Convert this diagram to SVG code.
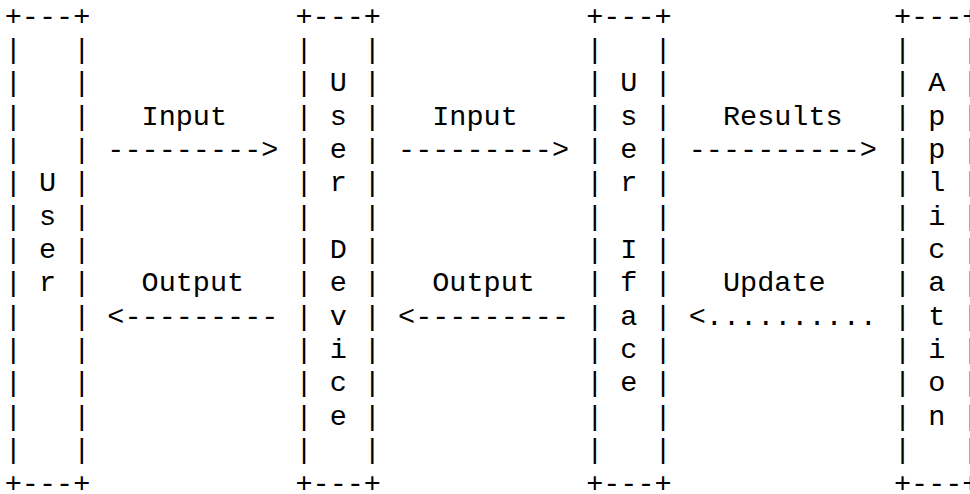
<svg xmlns="http://www.w3.org/2000/svg" width="970" height="494" viewBox="0 0 970 494">
<style>
text { font-family: "Liberation Mono", "Courier New", monospace; font-size: 28.5px; fill: #000; white-space: pre; }
</style>
<rect x="0" y="0" width="970" height="494" fill="#fff"/>
<g id="node-user">
<text xml:space="preserve"><tspan x="4.75" y="24.5">+---+</tspan><tspan x="4.75" y="57.86">|   |</tspan><tspan x="4.75" y="91.22">|   |</tspan><tspan x="4.75" y="124.58">|   |</tspan><tspan x="4.75" y="157.94">|   |</tspan><tspan x="4.75" y="191.3">| U |</tspan><tspan x="4.75" y="224.66">| s |</tspan><tspan x="4.75" y="258.02">| e |</tspan><tspan x="4.75" y="291.38">| r |</tspan><tspan x="4.75" y="324.74">|   |</tspan><tspan x="4.75" y="358.1">|   |</tspan><tspan x="4.75" y="391.46">|   |</tspan><tspan x="4.75" y="424.82">|   |</tspan><tspan x="4.75" y="458.18">|   |</tspan><tspan x="4.75" y="491.54">+---+</tspan></text>
</g>
<g id="node-user-device">
<text xml:space="preserve"><tspan x="295.45" y="24.5">+---+</tspan><tspan x="295.45" y="57.86">|   |</tspan><tspan x="295.45" y="91.22">| U |</tspan><tspan x="295.45" y="124.58">| s |</tspan><tspan x="295.45" y="157.94">| e |</tspan><tspan x="295.45" y="191.3">| r |</tspan><tspan x="295.45" y="224.66">|   |</tspan><tspan x="295.45" y="258.02">| D |</tspan><tspan x="295.45" y="291.38">| e |</tspan><tspan x="295.45" y="324.74">| v |</tspan><tspan x="295.45" y="358.1">| i |</tspan><tspan x="295.45" y="391.46">| c |</tspan><tspan x="295.45" y="424.82">| e |</tspan><tspan x="295.45" y="458.18">|   |</tspan><tspan x="295.45" y="491.54">+---+</tspan></text>
</g>
<g id="node-user-iface">
<text xml:space="preserve"><tspan x="586.15" y="24.5">+---+</tspan><tspan x="586.15" y="57.86">|   |</tspan><tspan x="586.15" y="91.22">| U |</tspan><tspan x="586.15" y="124.58">| s |</tspan><tspan x="586.15" y="157.94">| e |</tspan><tspan x="586.15" y="191.3">| r |</tspan><tspan x="586.15" y="224.66">|   |</tspan><tspan x="586.15" y="258.02">| I |</tspan><tspan x="586.15" y="291.38">| f |</tspan><tspan x="586.15" y="324.74">| a |</tspan><tspan x="586.15" y="358.1">| c |</tspan><tspan x="586.15" y="391.46">| e |</tspan><tspan x="586.15" y="424.82">|   |</tspan><tspan x="586.15" y="458.18">|   |</tspan><tspan x="586.15" y="491.54">+---+</tspan></text>
</g>
<g id="node-application">
<text xml:space="preserve"><tspan x="893.95" y="24.5">+---+</tspan><tspan x="893.95" y="57.86">|   |</tspan><tspan x="893.95" y="91.22">| A |</tspan><tspan x="893.95" y="124.58">| p |</tspan><tspan x="893.95" y="157.94">| p |</tspan><tspan x="893.95" y="191.3">| l |</tspan><tspan x="893.95" y="224.66">| i |</tspan><tspan x="893.95" y="258.02">| c |</tspan><tspan x="893.95" y="291.38">| a |</tspan><tspan x="893.95" y="324.74">| t |</tspan><tspan x="893.95" y="358.1">| i |</tspan><tspan x="893.95" y="391.46">| o |</tspan><tspan x="893.95" y="424.82">| n |</tspan><tspan x="893.95" y="458.18">|   |</tspan><tspan x="893.95" y="491.54">+---+</tspan></text>
</g>
<g id="connectors">
<text x="141.55" y="124.58">Input</text>
<text x="107.35" y="157.94">---------&gt;</text>
<text x="141.55" y="291.38">Output</text>
<text x="107.35" y="324.74">&lt;---------</text>
<text x="432.25" y="124.58">Input</text>
<text x="398.05" y="157.94">---------&gt;</text>
<text x="432.25" y="291.38">Output</text>
<text x="398.05" y="324.74">&lt;---------</text>
<text x="722.95" y="124.58">Results</text>
<text x="688.75" y="157.94">----------&gt;</text>
<text x="722.95" y="291.38">Update</text>
<text x="688.75" y="324.74">&lt;..........</text>
</g>
</svg>
